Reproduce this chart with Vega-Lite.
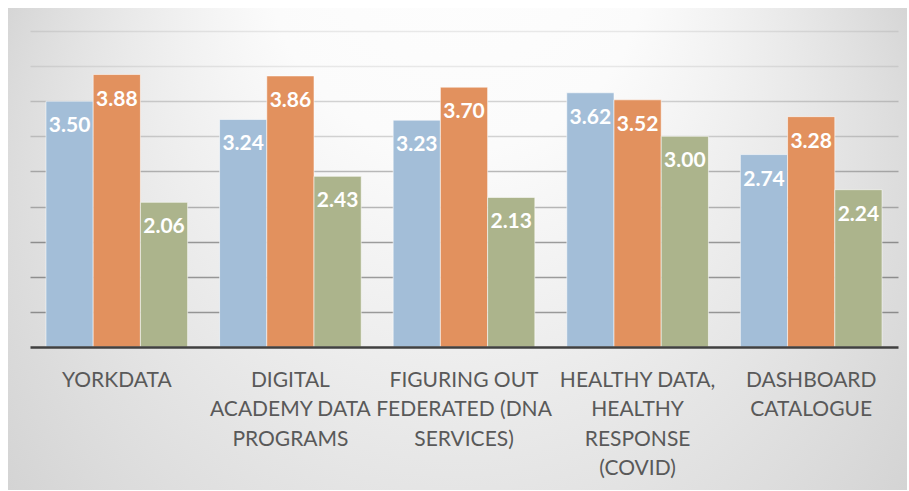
{
  "$schema": "https://vega.github.io/schema/vega-lite/v6.json",
  "width": 899,
  "height": 482,
  "autosize": {"type": "none"},
  "padding": {"left": 8, "top": 8, "right": 2, "bottom": 1},
  "background": "#ffffff",
  "config": {
    "view": {
      "stroke": null,
      "fill": {
        "gradient": "radial",
        "x1": 0.5, "y1": 0.0, "r1": 0,
        "x2": 0.5, "y2": 0.6, "r2": 0.7,
        "stops": [
          {"offset": 0, "color": "#ffffff"},
          {"offset": 0.3, "color": "#fbfbfb"},
          {"offset": 1, "color": "#c6c6c6"}
        ]
      }
    }
  },
  "data": {
    "values": [
      {"cat": "YORKDATA", "series": "Series 1", "value": 3.50},
      {"cat": "YORKDATA", "series": "Series 2", "value": 3.88},
      {"cat": "YORKDATA", "series": "Series 3", "value": 2.06},
      {"cat": "DIGITAL|ACADEMY DATA|PROGRAMS", "series": "Series 1", "value": 3.24},
      {"cat": "DIGITAL|ACADEMY DATA|PROGRAMS", "series": "Series 2", "value": 3.86},
      {"cat": "DIGITAL|ACADEMY DATA|PROGRAMS", "series": "Series 3", "value": 2.43},
      {"cat": "FIGURING OUT|FEDERATED (DNA|SERVICES)", "series": "Series 1", "value": 3.23},
      {"cat": "FIGURING OUT|FEDERATED (DNA|SERVICES)", "series": "Series 2", "value": 3.70},
      {"cat": "FIGURING OUT|FEDERATED (DNA|SERVICES)", "series": "Series 3", "value": 2.13},
      {"cat": "HEALTHY DATA,|HEALTHY|RESPONSE|(COVID)", "series": "Series 1", "value": 3.62},
      {"cat": "HEALTHY DATA,|HEALTHY|RESPONSE|(COVID)", "series": "Series 2", "value": 3.52},
      {"cat": "HEALTHY DATA,|HEALTHY|RESPONSE|(COVID)", "series": "Series 3", "value": 3.00},
      {"cat": "DASHBOARD|CATALOGUE", "series": "Series 1", "value": 2.74},
      {"cat": "DASHBOARD|CATALOGUE", "series": "Series 2", "value": 3.28},
      {"cat": "DASHBOARD|CATALOGUE", "series": "Series 3", "value": 2.24}
    ]
  },
  "encoding": {
    "x": {
      "field": "cat",
      "type": "nominal",
      "sort": null,
      "scale": {"range": [22, 890], "paddingInner": 0.184, "paddingOuter": 0.092},
      "axis": {
        "title": null,
        "orient": "bottom",
        "offset": -143,
        "zindex": 1,
        "domainColor": "#404040",
        "domainWidth": 2.5,
        "ticks": false,
        "grid": false,
        "labelAngle": 0,
        "labelExpr": "split(datum.label, '|')",
        "labelFont": "Lato",
        "labelFontSize": 21,
        "labelColor": "#595959",
        "labelLineHeight": 29.5,
        "labelBaseline": "top",
        "labelPadding": 22,
        "labelOverlap": false,
        "labelBound": false,
        "labelFlush": false,
        "labelLimit": 0
      }
    },
    "xOffset": {
      "field": "series",
      "type": "nominal",
      "scale": {"paddingInner": 0, "paddingOuter": 0}
    },
    "y": {
      "field": "value",
      "type": "quantitative",
      "scale": {"domain": [0, 4.5], "range": [339, 23], "nice": false, "zero": true},
      "axis": {
        "title": null,
        "labels": false,
        "ticks": false,
        "domain": false,
        "values": [0.5, 1, 1.5, 2, 2.5, 3, 3.5, 4, 4.5],
        "grid": true,
        "gridColor": "#000000",
        "gridWidth": 1.5,
        "gridOpacity": {
          "condition": [
            {"test": "datum.value >= 4", "value": 0.08},
            {"test": "datum.value >= 3", "value": 0.16},
            {"test": "datum.value >= 2", "value": 0.26}
          ],
          "value": 0.36
        }
      }
    }
  },
  "layer": [
    {
      "mark": {"type": "bar", "stroke": "#ffffff", "strokeOpacity": 0.55, "strokeWidth": 1},
      "encoding": {
        "color": {
          "field": "series",
          "type": "nominal",
          "legend": null,
          "scale": {"domain": ["Series 1", "Series 2", "Series 3"], "range": ["#a3bed8", "#e2915e", "#acb48c"]}
        }
      }
    },
    {
      "mark": {
        "type": "text",
        "baseline": "middle",
        "align": "center",
        "dy": 25,
        "font": "Lato",
        "fontSize": 21,
        "fontWeight": "bold",
        "color": "#ffffff"
      },
      "encoding": {
        "text": {"field": "value", "type": "quantitative", "format": ".2f"}
      }
    }
  ]
}
